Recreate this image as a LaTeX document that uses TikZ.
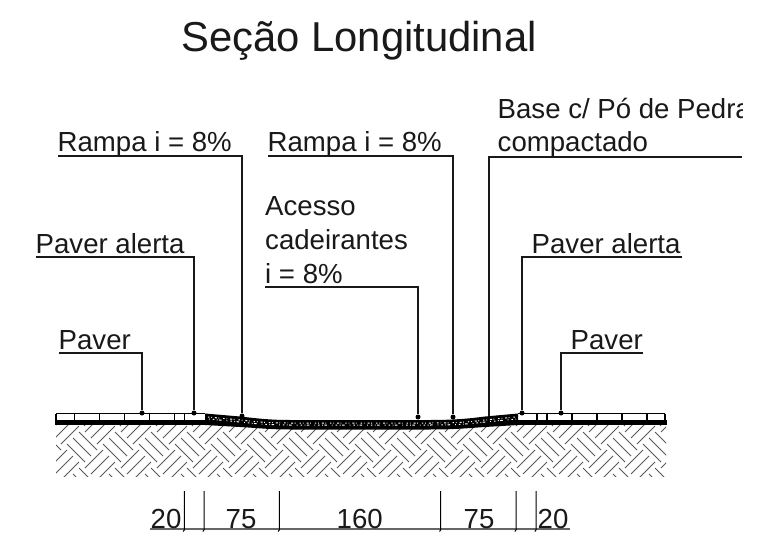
\documentclass[tikz,border=0pt]{standalone}
\usepackage{fontspec}
\setmainfont{Liberation Sans}
\tikzset{
  lab/.style={anchor=base west,inner sep=0pt,font=\fontsize{27.6}{30}\selectfont,text=black!90},
  titletext/.style={anchor=base west,inner sep=0pt,font=\fontsize{41.8}{44}\selectfont,text=black!90},
  leader/.style={draw=black!90,line width=1.5pt},
  pointdot/.style={circle,fill=black,inner sep=0pt,minimum size=5pt},
  hatchline/.style={draw=black!65,line width=1pt},
  paver/.style={draw=black,line width=1.6pt},
  speck/.style={draw=white,line width=1pt},
  dimline/.style={draw=black!60,line width=1.2pt},
  dimtick/.style={draw=black,line width=1pt}
}
\begin{document}
\begin{tikzpicture}[x=1pt,y=-1pt]
\useasboundingbox[fill=white] (0,0) rectangle (763,540);
% soil hatch
\begin{scope}
\clip (56,425) rectangle (666,476);
\foreach \i in {-1,...,18}{
  \foreach \j in {-1,0,1,2}{
    \pgfmathsetmacro{\ox}{36*\i}
    \pgfmathsetmacro{\oy}{36*\j}
    \begin{scope}[shift={(\ox,\oy)}]
      \draw[hatchline] (85,432) -- ++(18,-18);
      \draw[hatchline] (91,438) -- ++(18,-18);
      \draw[hatchline] (97,444) -- ++(18,-18);
      \draw[hatchline] (67,444) -- ++(18,18);
      \draw[hatchline] (73,438) -- ++(18,18);
      \draw[hatchline] (79,432) -- ++(18,18);
    \end{scope}
  }
}
\end{scope}
% pavers
\draw[paver] (56,413.5) -- (205,413.5) (518,413.5) -- (665,413.5) (665,413.5) -- (665,421) (56,413.5) -- (56,421);
\foreach \vx in {74.3,99.3,124.3,149.3,174.3,184.3,536.7,546.7,571.7,596.7,621.7,646.7}{
  \draw[paver] (\vx,413.5) -- (\vx,421);
}
\fill[black] (55,420) rectangle (206,425);
\fill[black] (517,420) rectangle (666.5,425);
% ramp band
\fill[black] (205,413.5) -- (240,416.5) .. controls (258,418.5) and (270,420) .. (290,420) -- (430,420)
  .. controls (455,420) and (470,418.5) .. (485,416.5) -- (518,413.5) -- (518,425)
  -- (485,427) .. controls (470,428) and (455,429.5) .. (430,429.5) -- (290,429.5)
  .. controls (270,429.5) and (258,428) .. (240,427) -- (205,425) -- cycle;
\draw[speck,dash pattern=on 1.3pt off 2pt on 0.7pt off 3pt on 2pt off 1.5pt on 0.8pt off 4pt]
  (208,417) -- (240,420) .. controls (258,422) and (270,423) .. (290,423) -- (430,423)
  .. controls (455,423) and (470,422) .. (485,420) -- (516,417);
\draw[speck,dash pattern=on 0.8pt off 3pt on 1.5pt off 2.5pt on 0.8pt off 1.5pt on 2.5pt off 5pt]
  (209,419) -- (240,422) .. controls (258,424) and (270,425) .. (290,425) -- (430,425)
  .. controls (455,425) and (470,424) .. (485,422) -- (516,419);
% title
\node[titletext] (title) at (181,52) {Seção Longitudinal};
% labels
\node[lab] (rampaA) at (57.5,152) {Rampa i = 8\%};
\node[lab] (rampaB) at (267.5,152) {Rampa i = 8\%};
\begin{scope}
\clip (480,90) rectangle (742,130);
\node[lab] (baseA) at (497.5,119) {Base c/ Pó de Pedra};
\end{scope}
\node[lab] (baseB) at (497.5,152) {compactado};
\node[lab] (acessoA) at (265,216) {Acesso};
\node[lab] (acessoB) at (265,249) {cadeirantes};
\node[lab] (acessoC) at (265,283) {i = 8\%};
\node[lab] (alertaL) at (35.5,253) {Paver alerta};
\node[lab] (alertaR) at (531.5,253) {Paver alerta};
\node[lab] (paverL) at (58.5,349) {Paver};
\node[lab] (paverR) at (570.5,349) {Paver};
% leader ends
\node[pointdot] (dA) at (142,413) {};
\node[pointdot] (dB) at (194,413) {};
\node[pointdot] (dC) at (242,416) {};
\node[pointdot] (dD) at (418,417) {};
\node[pointdot] (dE) at (453,417) {};
\node[pointdot] (dF) at (522,413) {};
\node[pointdot] (dG) at (561,413) {};
\coordinate (dH) at (489,416);
\coordinate (sA) at (59,353);
\coordinate (sB) at (36,257);
\coordinate (sC) at (58,156);
\coordinate (sD) at (265,287);
\coordinate (sE) at (268,156);
\coordinate (sF) at (682,257);
\coordinate (sG) at (643,353);
\coordinate (sH) at (742,157);
\foreach \s/\e in {sA/dA,sB/dB,sC/dC,sD/dD,sE/dE,sF/dF,sG/dG,sH/dH}{
  \draw[leader] (\s) -| (\e);
}
% dimensions
\coordinate (dimL) at (150,529);
\coordinate (dimR) at (570,529);
\draw[dimline] (dimL) -- (dimR);
\foreach \tx/\tn in {184.3/a,204/b,279.3/c,440.7/d,516/e,536/f}{
  \coordinate (t\tn) at (\tx,491);
  \draw[dimtick] (t\tn) -- ++(0,39) -- ++(-1.2,1.5);
}
\node[lab] (dimA) at (150.5,528) {20};
\node[lab] (dimB) at (225.5,528) {75};
\node[lab] (dimC) at (336.5,528) {160};
\node[lab] (dimD) at (463.5,528) {75};
\node[lab] (dimE) at (537.5,528) {20};
\end{tikzpicture}
\end{document}
